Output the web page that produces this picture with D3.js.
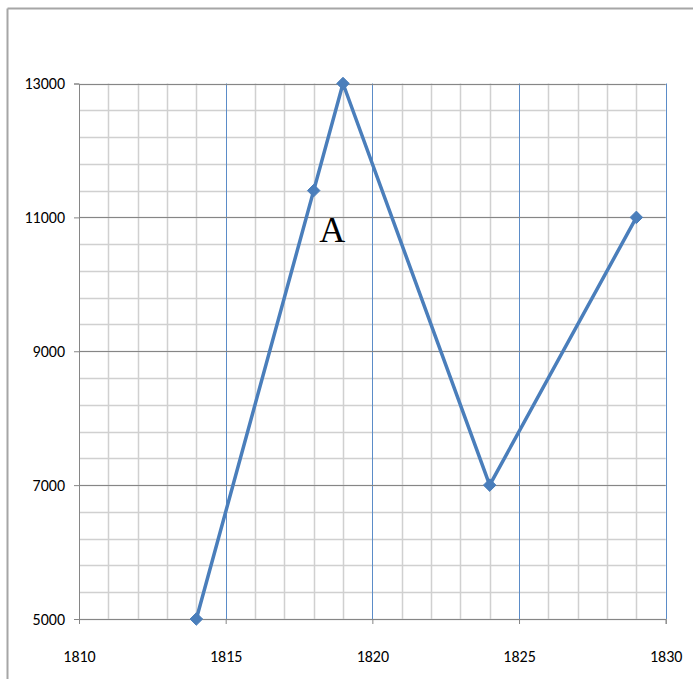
<!DOCTYPE html>
<html>
<head>
<meta charset="utf-8">
<script src="https://cdn.jsdelivr.net/npm/d3@7"></script>
<style>
  body { margin: 0; background: #fff; }
  svg { display: block; }
</style>
</head>
<body>
<svg width="693" height="679"></svg>
<script>
const years = [1814, 1818, 1819, 1824, 1829];
const values = [5000, 11400, 13000, 7000, 11000];
const xTicks = [1810, 1815, 1820, 1825, 1830];
const yTicks = [5000, 7000, 9000, 11000, 13000];
const pointLabel = { year: 1818.63, value: 10630, text: "A" };

const svg = d3.select("svg");
const plotLeft = 79, plotRight = 665.7, plotTop = 83.5, plotBottom = 619;

const x = d3.scaleLinear().domain([1810, 1830]).range([plotLeft, plotRight]);
const y = d3.scaleLinear().domain([5000, 13000]).range([plotBottom, plotTop]);

// outer frame (only top and left visible)
svg.append("line").attr("x1", 7.5).attr("x2", 693).attr("y1", 8.5).attr("y2", 8.5)
    .attr("stroke", "#a6a6a6").attr("stroke-width", 2);
svg.append("line").attr("x1", 7.5).attr("x2", 7.5).attr("y1", 8.5).attr("y2", 679)
    .attr("stroke", "#a6a6a6").attr("stroke-width", 2);

const grid = svg.append("g");

// minor horizontal lines every 400
d3.range(5000, 13001, 400).forEach(v => {
    if (v % 2000 === 0 && v !== 5000) return;
    grid.append("line")
        .attr("x1", plotLeft).attr("x2", plotRight)
        .attr("y1", Math.round(y(v)) + 0.5).attr("y2", Math.round(y(v)) + 0.5)
        .attr("stroke", "#d0d0d0").attr("stroke-width", 1.5);
});

// vertical lines every year
d3.range(1811, 1831, 1).forEach(yr => {
    const major = yr % 5 === 0;
    grid.append("line")
        .attr("x1", Math.round(x(yr)) + 0.5).attr("x2", Math.round(x(yr)) + 0.5)
        .attr("y1", plotTop).attr("y2", plotBottom)
        .attr("stroke", major ? "#5b8cc8" : "#d0d0d0")
        .attr("stroke-width", major ? 1 : 1.5);
});

// major horizontal lines
yTicks.forEach(v => {
    grid.append("line")
        .attr("x1", plotLeft).attr("x2", plotRight)
        .attr("y1", Math.round(y(v)) + 0.5).attr("y2", Math.round(y(v)) + 0.5)
        .attr("stroke", "#868686").attr("stroke-width", 1);
});

// axes
const yAxis = svg.append("g")
    .attr("transform", `translate(${plotLeft},0)`)
    .call(d3.axisLeft(y).tickValues(yTicks).tickSize(5).tickPadding(9).tickFormat(d3.format("d")));
yAxis.select(".domain").attr("stroke", "#868686");
yAxis.selectAll(".tick line").attr("stroke", "#868686");
yAxis.selectAll("text").attr("font-family", "Carlito, 'Liberation Sans', Arial, sans-serif")
    .attr("font-size", 16).attr("fill", "#000");

const xAxis = svg.append("g")
    .attr("transform", `translate(0,${plotBottom})`)
    .call(d3.axisBottom(x).tickValues(xTicks).tickSize(5).tickPadding(27).tickFormat(d3.format("d")));
xAxis.select(".domain").attr("stroke", "#868686");
xAxis.selectAll(".tick line").attr("stroke", "#868686");
xAxis.selectAll("text").attr("font-family", "Carlito, 'Liberation Sans', Arial, sans-serif")
    .attr("font-size", 16).attr("fill", "#000");

// series
const pts = years.map((yr, i) => [x(yr), y(values[i])]);
svg.append("path")
    .attr("d", d3.line()(pts))
    .attr("fill", "none")
    .attr("stroke", "#4a7ebb")
    .attr("stroke-width", 3.5)
    .attr("stroke-linejoin", "round");

svg.selectAll(".marker")
    .data(pts)
    .enter()
    .append("path")
    .attr("class", "marker")
    .attr("transform", d => `translate(${d[0]},${d[1]})`)
    .attr("d", d3.symbol().type(d3.symbolDiamond2).size(100))
    .attr("fill", "#4a7ebb")
    .attr("stroke", "#4a7ebb");

svg.append("text")
    .attr("x", x(pointLabel.year))
    .attr("y", y(pointLabel.value))
    .attr("text-anchor", "middle")
    .attr("font-family", "'Liberation Serif', 'Times New Roman', serif")
    .attr("font-size", 36)
    .attr("fill", "#000")
    .text(pointLabel.text);
</script>
</body>
</html>
